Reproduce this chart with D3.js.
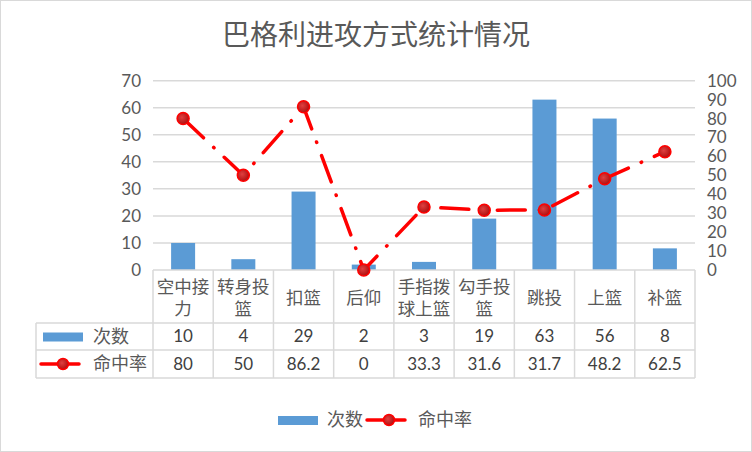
<!DOCTYPE html>
<html>
<head>
<meta charset="utf-8">
<script src="https://cdn.jsdelivr.net/npm/d3@7"></script>
<style>
body { margin: 0; background: #fff; }
svg { display: block; }
.tick text { font-family: Lato, "Noto Sans", sans-serif; font-size: 17px; fill: #595959; }
.grid line { stroke: #d9d9d9; stroke-width: 1.5; }
.cn { font-family: "Noto Sans CJK SC", sans-serif; fill: #595959; }
.num { font-family: Lato, "Noto Sans", sans-serif; font-size: 17px; fill: #404040; }
</style>
</head>
<body>
<svg id="chart" width="752" height="452"></svg>
<script>
var categories = ["空中接力", "转身投篮", "扣篮", "后仰", "手指拨球上篮", "勾手投篮", "跳投", "上篮", "补篮"];
var counts = [10, 4, 29, 2, 3, 19, 63, 56, 8];
var hitRate = [80, 50, 86.2, 0, 33.3, 31.6, 31.7, 48.2, 62.5];
var leftTicks = [0, 10, 20, 30, 40, 50, 60, 70];
var rightTicks = [0, 10, 20, 30, 40, 50, 60, 70, 80, 90, 100];
var seriesNames = ["次数", "命中率"];

var svg = d3.select("#chart");
var plotLeft = 153, plotRight = 695, plotTop = 80.7, plotBottom = 270;
var barColor = "#5b9bd5", lineColor = "#ff0000";

// outer frame
svg.append("rect").attr("x", 0.5).attr("y", 0.5).attr("width", 751).attr("height", 451)
    .attr("fill", "#fff").attr("stroke", "#d9d9d9");

var defs = svg.append("defs");
var grad = defs.append("radialGradient").attr("id", "dot").attr("cx", "40%").attr("cy", "40%").attr("r", "60%");
grad.append("stop").attr("offset", "0%").attr("stop-color", "#e04040");
grad.append("stop").attr("offset", "100%").attr("stop-color", "#b01010");

svg.append("text").attr("class", "cn")
    .attr("x", 376).attr("y", 45).attr("text-anchor", "middle")
    .style("font-size", "28px")
    .text("巴格利进攻方式统计情况");

var x = d3.scaleBand().domain(categories).range([plotLeft, plotRight]).paddingInner(0).paddingOuter(0);
var y = d3.scaleLinear().domain([0, 70]).range([plotBottom, plotTop]);
var y2 = d3.scaleLinear().domain([0, 100]).range([plotBottom, plotTop]);

// gridlines
svg.append("g").attr("class", "grid")
  .selectAll("line").data(leftTicks.slice(1)).enter().append("line")
    .attr("x1", plotLeft).attr("x2", plotRight)
    .attr("y1", function(d) { return y(d); }).attr("y2", function(d) { return y(d); });

var ya = svg.append("g").attr("transform", "translate(" + (plotLeft - 6) + ",0)")
    .call(d3.axisLeft(y).tickValues(leftTicks).tickSize(0).tickPadding(6));
ya.select(".domain").remove();

var yb = svg.append("g").attr("transform", "translate(" + (plotRight + 6) + ",0)")
    .call(d3.axisRight(y2).tickValues(rightTicks).tickSize(0).tickPadding(6));
yb.select(".domain").remove();

// bars
var bw = 24;
svg.selectAll("rect.bar").data(counts).enter().append("rect")
    .attr("class", "bar")
    .attr("x", function(d, i) { return x(categories[i]) + x.bandwidth() / 2 - bw / 2; })
    .attr("y", function(d) { return y(d); })
    .attr("width", bw)
    .attr("height", function(d) { return plotBottom - y(d); })
    .attr("fill", barColor);

// data table
var tableLeft = 36;
var rowY = [plotBottom, 323, 350, 378];
var tg = svg.append("g").attr("stroke", "#d9d9d9").attr("stroke-width", 1.5);
tg.append("line").attr("x1", plotLeft).attr("x2", plotRight).attr("y1", rowY[0]).attr("y2", rowY[0]);
[1, 2, 3].forEach(function(r) {
  tg.append("line").attr("x1", tableLeft).attr("x2", plotRight).attr("y1", rowY[r]).attr("y2", rowY[r]);
});
tg.append("line").attr("x1", tableLeft).attr("x2", tableLeft).attr("y1", rowY[1]).attr("y2", rowY[3]);
categories.concat([null]).forEach(function(c, i) {
  var xx = i < categories.length ? x(c) : plotRight;
  tg.append("line").attr("x1", xx).attr("x2", xx).attr("y1", rowY[0]).attr("y2", rowY[3]);
});

// category labels, 3 characters per line
categories.forEach(function(c) {
  var lines = [];
  for (var k = 0; k < c.length; k += 3) lines.push(c.slice(k, k + 3));
  var cx = x(c) + x.bandwidth() / 2;
  var midY = (rowY[0] + rowY[1]) / 2 + 1;
  lines.forEach(function(l, j) {
    svg.append("text").attr("class", "cn").attr("text-anchor", "middle")
      .style("font-size", "17.5px")
      .attr("x", cx)
      .attr("y", midY + (j - (lines.length - 1) / 2) * 22)
      .attr("dy", "0.35em").text(l);
  });
});

[counts, hitRate].forEach(function(arr, r) {
  var cy = (rowY[r + 1] + rowY[r + 2]) / 2;
  svg.selectAll(null).data(arr).enter().append("text")
    .attr("class", "num").attr("text-anchor", "middle")
    .attr("x", function(d, i) { return x(categories[i]) + x.bandwidth() / 2; })
    .attr("y", cy).attr("dy", "0.35em")
    .text(function(d) { return d; });
});

function barKey(g, kx, ky) {
  g.append("rect").attr("x", kx).attr("y", ky - 4).attr("width", 40).attr("height", 9).attr("fill", barColor);
}
function lineKey(g, kx, ky) {
  g.append("line").attr("x1", kx).attr("x2", kx + 38).attr("y1", ky).attr("y2", ky)
    .attr("stroke", lineColor).attr("stroke-width", 3.5).attr("stroke-linecap", "round");
  g.append("circle").attr("cx", kx + 22).attr("cy", ky).attr("r", 5.5)
    .attr("fill", "url(#dot)").attr("stroke", lineColor).attr("stroke-width", 1.5);
}

var keys = svg.append("g");
barKey(keys, 43, (rowY[1] + rowY[2]) / 2);
keys.append("text").attr("class", "cn").attr("x", 93).attr("y", (rowY[1] + rowY[2]) / 2)
    .attr("dy", "0.35em").style("font-size", "18px").text(seriesNames[0]);
lineKey(keys, 41, (rowY[2] + rowY[3]) / 2);
keys.append("text").attr("class", "cn").attr("x", 93).attr("y", (rowY[2] + rowY[3]) / 2)
    .attr("dy", "0.35em").style("font-size", "18px").text(seriesNames[1]);

// line series
var line = d3.line()
    .x(function(d, i) { return x(categories[i]) + x.bandwidth() / 2; })
    .y(function(d) { return y2(d); });
svg.append("path").datum(hitRate)
    .attr("d", line)
    .attr("fill", "none")
    .attr("stroke", lineColor)
    .attr("stroke-width", 3.5)
    .attr("stroke-linecap", "round")
    .attr("stroke-dasharray", "28 14 0.5 14");

svg.selectAll("circle.pt").data(hitRate).enter().append("circle")
    .attr("class", "pt")
    .attr("cx", function(d, i) { return x(categories[i]) + x.bandwidth() / 2; })
    .attr("cy", function(d) { return y2(d); })
    .attr("r", 6)
    .attr("fill", "url(#dot)")
    .attr("stroke", lineColor)
    .attr("stroke-width", 1.5);

// bottom legend
var lg = svg.append("g");
barKey(lg, 278, 420);
lg.append("text").attr("class", "cn").attr("x", 327).attr("y", 420).attr("dy", "0.35em")
    .style("font-size", "18px").text(seriesNames[0]);
lineKey(lg, 367, 420);
lg.append("text").attr("class", "cn").attr("x", 418).attr("y", 420).attr("dy", "0.35em")
    .style("font-size", "18px").text(seriesNames[1]);
</script>
</body>
</html>
